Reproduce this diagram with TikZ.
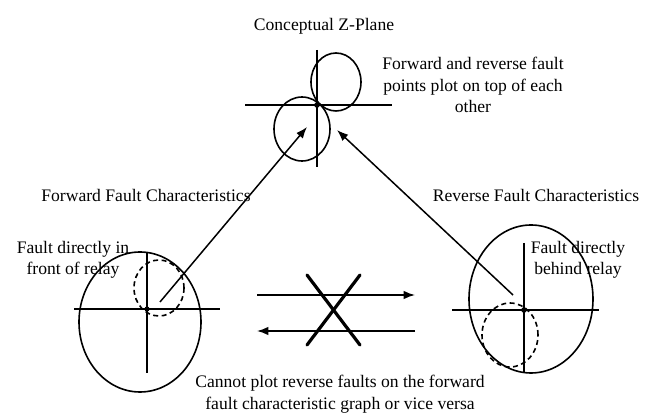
\documentclass[tikz,border=0pt]{standalone}
\usepackage{fontspec}
\setmainfont{Liberation Serif}
\usepackage{tikz}
\usetikzlibrary{arrows.meta,positioning,calc}

\begin{document}
\begin{tikzpicture}[
  x=1pt, y=-1pt,
  font=\fontsize{17.6}{21.5}\selectfont,
  >=Latex,
  label/.style={align=center, inner sep=0pt, text=black},
  axis/.style={draw=black, line width=1.5pt},
  outline/.style={draw=black, line width=1.6pt},
  locus/.style={draw=black, line width=1.6pt, dash pattern=on 5pt off 3.5pt},
  pointer/.style={-{Latex[length=4mm, width=3mm]}, draw=black, line width=1.5pt},
  cross/.style={draw=black, line width=3.2pt, line cap=round}
]
  \useasboundingbox[fill=white] (0,0) rectangle (646,419);

  % Conceptual Z-plane with both characteristics sharing the origin.
  \node[label] (title) at (324,26) {Conceptual Z-Plane};
  \node[label] (overlap) at (473,85) {Forward and reverse fault\\points plot on top of each\\other};
  \coordinate (zorigin) at (317,105);
  \draw[axis] (245,105) -- (392,105);
  \draw[axis] (317,50) -- (317,167);
  \draw[outline] (336,82) ellipse [x radius=25pt, y radius=29pt];
  \draw[outline] (302,129) ellipse [x radius=28pt, y radius=32pt];
  \fill (zorigin) circle (2.8pt);

  % Forward fault characteristic.
  \node[label] (fwdtitle) at (146,195) {Forward Fault Characteristics};
  \node[label] (fwdnote) at (73,260) {Fault directly in\\front of relay};
  \coordinate (fwdorigin) at (147,309);
  \draw[outline] (140,322) ellipse [x radius=61pt, y radius=70pt];
  \draw[axis] (74,309) -- (220,309);
  \draw[axis] (147,252) -- (147,373);
  \draw[locus] (159,288) ellipse [x radius=25pt, y radius=28pt];
  \fill (fwdorigin) circle (2.6pt);

  % Reverse fault characteristic.
  \node[label] (revtitle) at (536,195) {Reverse Fault Characteristics};
  \node[label] (revnote) at (578,260) {Fault directly\\behind relay};
  \coordinate (revorigin) at (524,310);
  \draw[outline] (531,299) ellipse [x radius=62pt, y radius=74pt];
  \draw[axis] (452,310) -- (599,310);
  \draw[axis] (524,243) -- (524,373);
  \draw[locus] (510,335) ellipse [x radius=28pt, y radius=32pt];
  \fill (revorigin) circle (2.8pt);

  \coordinate (fwdtail) at (160,302);
  \coordinate (fwdhead) at (307,127);
  \coordinate (revtail) at (513,295);
  \coordinate (revhead) at (337,130);
  \draw[pointer] (fwdtail) -- (fwdhead);
  \draw[pointer] (revtail) -- (revhead);

  % No mapping between the two graphs.
  \coordinate (toplft) at (257,295);
  \coordinate (toprgt) at (415,295);
  \coordinate (botlft) at (257,331);
  \coordinate (botrgt) at (415,331);
  \draw[pointer] (toplft) -- (toprgt);
  \draw[pointer] (botrgt) -- (botlft);
  \draw[cross] (307,275) -- (360,345);
  \draw[cross] (360,275) -- (307,345);

  \node[label] (verdict) at (340,394) {Cannot plot reverse faults on the forward\\fault characteristic graph or vice versa};
\end{tikzpicture}
\end{document}
